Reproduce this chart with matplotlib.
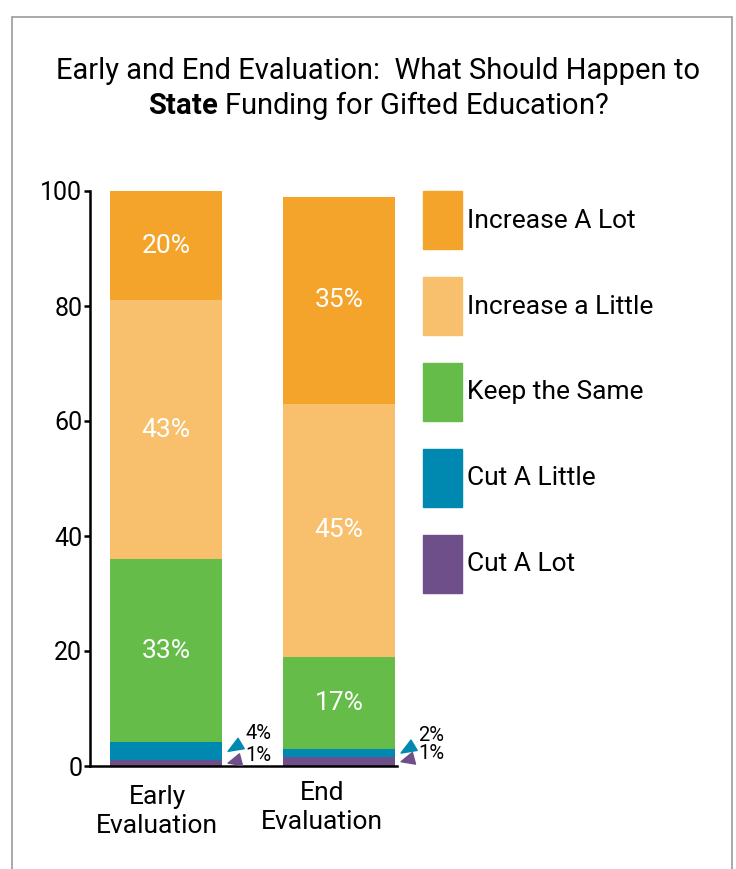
import matplotlib.pyplot as plt
import matplotlib.transforms as mtransforms
from matplotlib.patches import Rectangle, Patch
import numpy as np

plt.rcParams['font.family'] = ['Roboto', 'DejaVu Sans']
plt.rcParams['mathtext.fontset'] = 'custom'
plt.rcParams['mathtext.rm'] = 'Roboto'
plt.rcParams['mathtext.bf'] = 'Roboto:bold'

groups = ["Early\nEvaluation", "End\nEvaluation"]
categories = ["Cut A Lot", "Cut A Little", "Keep the Same", "Increase a Little", "Increase A Lot"]
colors = ["#6F4F8A", "#0089B0", "#66BC48", "#F8C06C", "#F5A42B"]
# segment heights as drawn
early = [1.0, 3.1, 31.9, 45.0, 19.0]
end = [1.5, 1.5, 16.0, 44.0, 36.0]
# printed labels
early_labels = ["1%", "4%", "33%", "43%", "20%"]
end_labels = ["1%", "2%", "17%", "45%", "35%"]

fig = plt.figure(figsize=(7.36, 8.69), dpi=100)
ax = fig.add_axes([90 / 736, 103 / 869, 307 / 736, 575 / 869])

fig.patches.append(Rectangle((12 / 736, -0.1), 720 / 736, 1.1 - 17 / 869,
                             transform=fig.transFigure, fill=False,
                             edgecolor="#9a9a9a", linewidth=1.2))

x = np.arange(len(groups))
width = 0.647
values = np.array([early, end])
labels = [early_labels, end_labels]
bottoms = np.zeros(len(groups))
for i, cat in enumerate(categories):
    h = values[:, i]
    ax.bar(x, h, width, bottom=bottoms, color=colors[i], label=cat, linewidth=0)
    for j in range(len(groups)):
        mid = bottoms[j] + h[j] / 2
        if i >= 2:
            ax.text(x[j], mid, labels[j][i], ha="center", va="center",
                    color="white", fontsize=19)
        else:
            tip = (x[j] + width / 2 + 0.035, mid)
            ax.annotate(labels[j][i], xy=tip, xytext=(17, 18 if i == 1 else 8),
                        textcoords="offset pixels", ha="left", va="center",
                        fontsize=14.5, annotation_clip=False,
                        arrowprops=dict(arrowstyle="wedge,tail_width=0.6",
                                        color=colors[i], shrinkA=1, shrinkB=0))
    bottoms += h

ax.set_xlim(-0.44, 1.335)
ax.set_ylim(0, 100)
ax.set_yticks([0, 20, 40, 60, 80, 100])
ax.set_xticks(x)
ax.set_xticklabels(groups, fontsize=19, linespacing=1.25)
ax.tick_params(axis="x", length=0, pad=14)
ax.tick_params(axis="y", labelsize=18, width=1.8, length=4, pad=1.5)
for s in ["top", "right"]:
    ax.spines[s].set_visible(False)
for s in ["left", "bottom"]:
    ax.spines[s].set_linewidth(1.8)

offsets = [(-9, 0), (-17, 4)]
for lab, (dx, dy) in zip(ax.get_xticklabels(), offsets):
    lab.set_transform(lab.get_transform() +
                      mtransforms.ScaledTranslation(dx / 100, dy / 100, fig.dpi_scale_trans))

handles = [Patch(color=c) for c in colors][::-1]
fig.legend(handles, categories[::-1], loc="upper left",
           bbox_to_anchor=(423 / 736, 1 - 191 / 869), frameon=False,
           fontsize=19, handlelength=1.48, handleheight=3.0,
           labelspacing=1.06, handletextpad=0.18, borderpad=0, borderaxespad=0)

fig.text(0.514, 1 - 71 / 869, "Early and End Evaluation:  What Should Happen to",
         ha="center", va="center", fontsize=21)
fig.text(0.514, 1 - 106 / 869, r"$\bf{State}$ Funding for Gifted Education?",
         ha="center", va="center", fontsize=21)

fig.savefig("out.png", dpi=100)
